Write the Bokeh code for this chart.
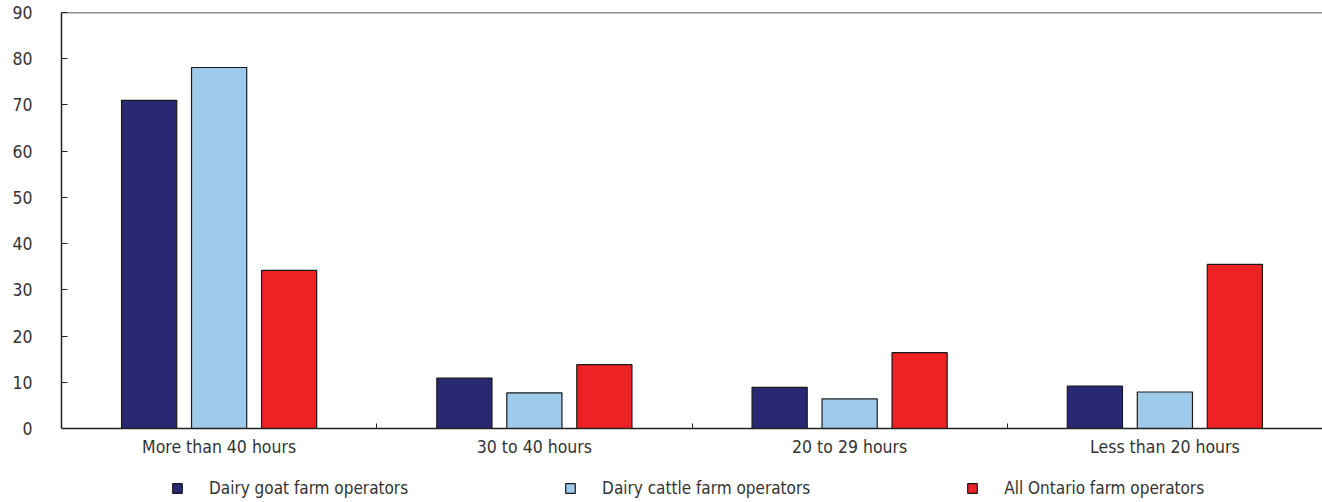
import numpy as np
from bokeh.plotting import figure
from bokeh.layouts import column
from bokeh.models import ColumnDataSource, FixedTicker, Span, Legend, LegendItem, Range1d
from bokeh.transform import dodge
from bokeh.embed import file_html
from bokeh.resources import INLINE

categories = ["More than 40 hours", "30 to 40 hours", "20 to 29 hours", "Less than 20 hours"]
goat = [71.0, 10.9, 8.9, 9.2]
cattle = [78.1, 7.7, 6.4, 7.9]
ontario = [34.2, 13.8, 16.4, 35.5]
series_names = ["Dairy goat farm operators", "Dairy cattle farm operators", "All Ontario farm operators"]
colors = ["#282873", "#A0CAEA", "#EE2224"]
y_ticks = list(range(0, 100, 10))

FONT = "'DejaVu Sans Condensed', sans-serif"
TXT = "#333333"
AX = "#222222"
BAR_LINE = "#1a1a1a"

centers = np.arange(len(categories)) + 0.5
src = ColumnDataSource(dict(x=centers, goat=goat, cattle=cattle, ontario=ontario))

p = figure(width=1322, height=465, x_range=Range1d(0, len(categories)), y_range=Range1d(0, 90),
           output_backend="svg", toolbar_location=None,
           min_border_left=61, min_border_right=0, min_border_top=12, min_border_bottom=37)
p.outline_line_color = None
p.xgrid.visible = False
p.ygrid.visible = False

offsets = [-0.222, 0.0, 0.222]
fields = ["goat", "cattle", "ontario"]
for f, off, c in zip(fields, offsets, colors):
    p.vbar(x=dodge("x", off), top=f, width=0.175, source=src,
           fill_color=c, line_color=BAR_LINE, line_width=1.2)

p.add_layout(Span(location=90, dimension="width", line_color=AX, line_width=1.5))

xa = p.xaxis[0]
xa.ticker = FixedTicker(ticks=list(centers), minor_ticks=[1, 2, 3])
xa.major_label_overrides = {float(c): cat for c, cat in zip(centers, categories)}
xa.major_tick_line_color = None
xa.minor_tick_in = 5
xa.minor_tick_out = 0
xa.minor_tick_line_color = AX
xa.axis_line_color = AX
xa.axis_line_width = 1.5
xa.major_label_standoff = 2
xa.major_label_text_font = FONT
xa.major_label_text_font_size = "17.5px"
xa.major_label_text_color = TXT

ya = p.yaxis[0]
ya.ticker = FixedTicker(ticks=y_ticks)
ya.major_tick_in = 6
ya.major_tick_out = 0
ya.minor_tick_line_color = None
ya.major_tick_line_color = AX
ya.axis_line_color = AX
ya.axis_line_width = 1.5
ya.major_label_standoff = 29
ya.major_label_text_font = FONT
ya.major_label_text_font_size = "17.5px"
ya.major_label_text_color = TXT

# legend strip below the chart (its bars share the chart's data but sit outside the visible range)
lg = figure(width=1322, height=37, x_range=Range1d(100, 101), y_range=Range1d(1000, 1001),
            output_backend="svg", toolbar_location=None,
            x_axis_location=None, y_axis_location=None,
            min_border_left=0, min_border_right=0, min_border_top=0, min_border_bottom=0)
lg.grid.visible = False
lg.outline_line_color = None
items = []
for n, f, off, c in zip(series_names, fields, offsets, colors):
    r = lg.vbar(x=dodge("x", off), top=f, width=0.175, source=src,
                fill_color=c, line_color=BAR_LINE, line_width=1.2)
    items.append(LegendItem(label=n, renderers=[r]))
legend = Legend(items=items, orientation="horizontal", location=(110, 4), spacing=156,
                glyph_width=12, glyph_height=12, label_standoff=26,
                border_line_color=None, background_fill_alpha=0, margin=0, padding=3,
                label_text_font=FONT, label_text_font_size="17px", label_text_color=TXT)
lg.add_layout(legend, "center")

layout = column(p, lg, spacing=0)
open("out.html", "w").write(file_html(layout, INLINE))
